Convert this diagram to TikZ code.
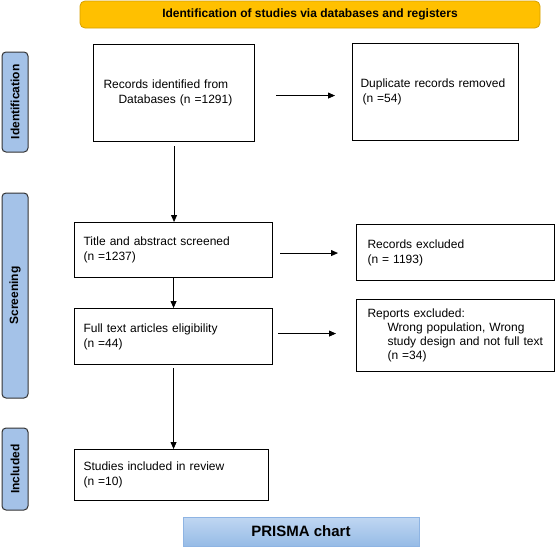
\documentclass[tikz,border=0pt]{standalone}
\usepackage{fontspec}
\setmainfont{Liberation Sans}
\usetikzlibrary{arrows.meta,positioning,calc}
\definecolor{bannerfill}{RGB}{255,192,0}
\definecolor{bannerline}{RGB}{214,160,0}
\definecolor{stagefill}{RGB}{164,194,232}
\definecolor{charttop}{RGB}{192,215,242}
\definecolor{chartbot}{RGB}{150,187,230}
\definecolor{chartline}{RGB}{142,180,227}
\tikzset{
  every path/.style={line width=0.8pt},
  box/.style={draw,line width=1.1pt,anchor=north west,align=left,inner xsep=9pt,inner ysep=0pt,
    font=\fontsize{12}{15}\selectfont},
  stage/.style={draw=black!80,line width=1pt,fill=stagefill,rounded corners=4pt,rotate=90,
    minimum height=26pt,inner sep=0pt,font=\bfseries\fontsize{12}{14}\selectfont},
  link/.style={-{Triangle[width=6pt,length=7pt]}},
}

\begin{document}
\begin{tikzpicture}[x=1pt,y=-1pt]
  \useasboundingbox (0,0) rectangle (556,546);
  % header and footer
  \node[draw=bannerline,fill=bannerfill,rounded corners=5pt,minimum width=460pt,minimum height=27pt,
    font=\bfseries\fontsize{12}{14}\selectfont] (head) at (310,14.5) {Identification of studies via databases and registers};
  \node[draw=chartline,top color=charttop,bottom color=chartbot,minimum width=236pt,minimum height=29pt,
    font=\bfseries\fontsize{15}{17}\selectfont] (chart) at (301,531.5) {PRISMA chart};
  % stages
  \node[stage,minimum width=100pt] (s1) at (15,102) {Identification};
  \node[stage,minimum width=205pt] (s2) at (15,295.5) {Screening};
  \node[stage,minimum width=82pt] (s3) at (15,469) {Included};
  % boxes
  \node[box,inner xsep=10pt,text width=141pt,minimum height=97pt] (id) at (93,44)
    {Records identified from\\\hspace*{15pt}Databases (n =1291)};
  \node[box,inner xsep=8pt,text width=150pt,minimum height=97pt] (dup) at (352,43)
    {Duplicate records removed\\\hspace*{2pt}(n =54)};
  \node[box,text width=180pt,minimum height=55pt] (scr) at (74,222)
    {Title and abstract screened\\(n =1237)};
  \node[box,inner xsep=11pt,text width=176pt,minimum height=56pt] (exc) at (356,224)
    {Records excluded\\(n = 1193)};
  \node[box,text width=180pt,minimum height=56pt] (full) at (74,308)
    {Full text articles eligibility\\(n =44)};
  \node[box,inner xsep=11pt,text width=176pt,minimum height=72pt,font=\fontsize{12}{14}\selectfont] (rep) at (356,299)
    {Reports excluded:\\\hspace*{20pt}Wrong population, Wrong\\\hspace*{20pt}study design and not full text\\\hspace*{20pt}(n =34)};
  \node[box,text width=176pt,minimum height=51pt] (inc) at (74,449)
    {Studies included in review\\(n =10)};
  % arrows
  \draw[link,shorten <=4pt] (id.south) -- (id.south |- scr.north);
  \draw[link] (scr.south) -- (full.north);
  \draw[link,shorten <=3pt] (full.south) -- (full.south |- inc.north);
  \draw[link,shorten <=21pt,shorten >=17pt] ([yshift=-2.5pt]id.east) -- ([yshift=-2.5pt]id.east -| dup.west);
  \draw[link,shorten <=7pt,shorten >=18pt] ([yshift=-3pt]scr.east) -- ([yshift=-3pt]scr.east -| exc.west);
  \draw[link,shorten <=5pt,shorten >=20pt] ([yshift=3pt]full.east) -- ([yshift=3pt]full.east -| rep.west);
\end{tikzpicture}
\end{document}
